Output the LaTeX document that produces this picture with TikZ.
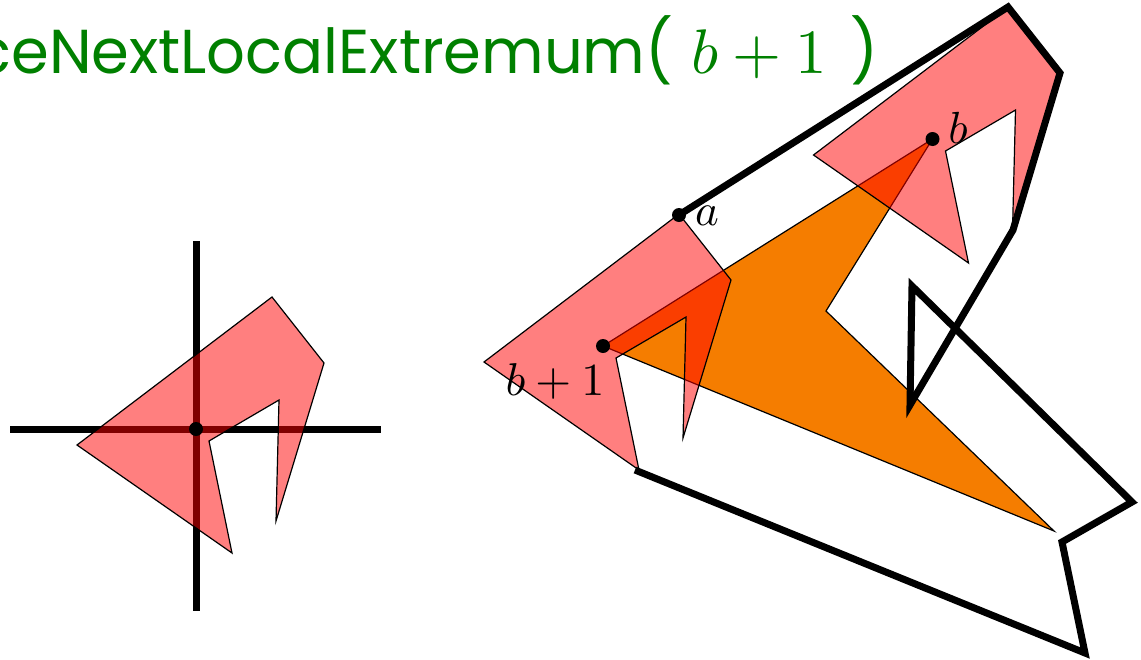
\documentclass[tikz,border=0pt]{standalone}
\usepackage{fontspec}
\usepackage{tikz}
\newfontfamily\titlefont{Poppins}
\definecolor{orangefill}{RGB}{245,125,0}
\definecolor{titlegreen}{RGB}{0,128,0}
\tikzset{
  pinkpoly/.style={draw=black, line width=1.2pt, fill=red, fill opacity=0.5},
  orangepoly/.style={draw=black, line width=1.2pt, fill=orangefill},
  thickline/.style={draw=black, line width=7pt},
  ptlab/.style={inner sep=0pt, anchor=base},
}
\newcommand{\pinkcopy}[1]{%
  \filldraw[pinkpoly, shift={(#1)}] (76,-132) -- (128,-66) -- (80,92) -- (83,-29)
    -- (13,12) -- (36,124) -- (-119,16) -- cycle;%
}
\newcommand{\bigmath}[2]{\scalebox{#1}{\fontsize{10}{12}\selectfont$#2$}}

\begin{document}
\begin{tikzpicture}[x=1pt,y=-1pt]
\clip (0,0) rectangle (1141,659);
\coordinate (c0) at (196,429);
\coordinate (bp) at (603,346);
\coordinate (b) at (932.5,139);
\coordinate (a) at (679,215);
% left: crosshair
\draw[thickline] (10,429) -- (381,429);
\draw[thickline] (196,241) -- (196,611);
% right: orange region
\filldraw[orangepoly] (bp) -- (b) -- (826,311) -- (1054,531) -- cycle;
\pinkcopy{c0}
\pinkcopy{bp}
\pinkcopy{b}
% polygon chain
\draw[thickline] (a) -- (1008,7) -- (1060,73) -- (1013,230) -- (910,405)
  -- (912,286) -- (1132,502) -- (1062,542) -- (1085,653) -- (635,470);
\foreach \p in {c0,bp,b,a}{%
  \fill (\p) circle (7pt);
}
\node[ptlab] (alab) at (707,225) {\bigmath{4.5}{a}};
\node[ptlab] (blab) at (958,143) {\bigmath{4.5}{b}};
\node[ptlab] (bplab) at (555,395) {\bigmath{4.6}{b+1}};
\node[anchor=base east, inner sep=0pt, text=titlegreen,
  font=\titlefont\fontsize{62}{62}\selectfont] (title) at (879,73)
  {\scalebox{0.98}[1]{ceNextLocalExtremum(}\hspace{18pt}\bigmath{6.3}{b+1}\hspace{24pt})};
\end{tikzpicture}
\end{document}
